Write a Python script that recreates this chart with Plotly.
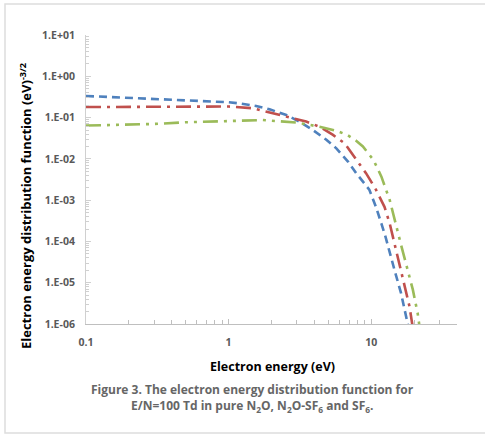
import plotly.graph_objects as go
import numpy as np

# ---- data ----
blue_e = [0.1, 0.2, 0.45, 0.7, 1.0, 1.2, 1.56, 1.94, 2.54, 3.15, 3.9, 4.85, 5.7, 6.9, 7.85, 9.7, 10.8, 11.8, 12.6, 14.6, 16.2, 17.6, 18.3]
blue_v = [0.333, 0.30, 0.27, 0.255, 0.235, 0.22, 0.19, 0.158, 0.116, 0.079, 0.050, 0.029, 0.018, 0.0085, 0.0045, 0.0018, 6.9e-4, 2.7e-4, 1.3e-4, 2e-5, 5.6e-6, 1.5e-6, 8e-7]

red_e = [0.1, 0.3, 0.6, 1.0, 1.48, 2.05, 2.68, 3.5, 4.35, 5.4, 6.5, 8.0, 9.2, 10.8, 12.4, 13.5, 14.2, 16.7, 18.6, 19.6]
red_v = [0.18, 0.18, 0.18, 0.185, 0.168, 0.127, 0.102, 0.080, 0.060, 0.038, 0.024, 0.009, 0.0045, 1.8e-3, 6.9e-4, 2.7e-4, 1.3e-4, 1.4e-5, 2.6e-6, 8e-7]

green_e = [0.1, 0.3, 0.5, 0.9, 1.74, 2.98, 4.35, 5.7, 6.8, 7.85, 8.75, 10.4, 11.8, 13.5, 15.0, 16.2, 19.6, 21.2, 21.9]
green_v = [0.064, 0.070, 0.077, 0.080, 0.087, 0.076, 0.060, 0.048, 0.038, 0.0275, 0.020, 0.0093, 0.0037, 1e-3, 2.3e-4, 8.3e-5, 6.8e-6, 1.8e-6, 8e-7]

y_tickvals = [1e1, 1e0, 1e-1, 1e-2, 1e-3, 1e-4, 1e-5, 1e-6]
y_ticktext = ["1.E+01", "1.E+00", "1.E-01", "1.E-02", "1.E-03", "1.E-04", "1.E-05", "1.E-06"]
x_tickvals = [0.1, 1, 10]
x_ticktext = ["0.1", "1", "10"]

# ---- layout geometry (pixels) ----
W, H = 485, 435
L, R, T, B = 86, 457, 35, 324
pw, ph = R - L, B - T


def px(x):
    return (x - L) / pw


def py(y):
    return (B - y) / ph


FONT = "Open Sans"

fig = go.Figure()
fig.add_trace(go.Scatter(x=blue_e, y=blue_v, mode="lines",
                         line=dict(color="#4F81BD", width=2.6, dash="8px,5px")))
fig.add_trace(go.Scatter(x=red_e, y=red_v, mode="lines",
                         line=dict(color="#C0504D", width=2.6, dash="15px,6px,3px,6px")))
fig.add_trace(go.Scatter(x=green_e, y=green_v, mode="lines",
                         line=dict(color="#9BBB59", width=2.6, dash="15px,6px,3px,6px,3px,6px")))

minor_y = [m * 10.0 ** d for d in range(-6, 1) for m in range(2, 10)]
minor_x = [m * 10.0 ** d for d in range(-1, 2) for m in range(2, 10) if m * 10.0 ** d <= 40]

fig.update_xaxes(type="log", range=[-1, np.log10(40)], tickvals=x_tickvals, ticktext=x_ticktext,
                 showgrid=False, zeroline=False, showline=True, linecolor="#BFBFBF", linewidth=1,
                 ticks="inside", ticklen=5, tickcolor="#BFBFBF",
                 minor=dict(tickvals=minor_x, ticks="inside", ticklen=4, tickcolor="#BFBFBF", showgrid=False),
                 tickfont=dict(family=FONT, size=10.5, color="#595959", weight="bold"),
                 ticklabelstandoff=8)
fig.update_yaxes(type="log", range=[-6, 1], tickvals=y_tickvals, ticktext=y_ticktext,
                 showgrid=False, zeroline=False, showline=True, linecolor="#D0D0D0", linewidth=1,
                 ticks="inside", ticklen=5, tickcolor="#D0D0D0",
                 minor=dict(tickvals=minor_y, ticks="inside", ticklen=3, tickcolor="#D0D0D0", showgrid=False),
                 tickfont=dict(family=FONT, size=10.5, color="#595959", weight="bold"),
                 ticklabelstandoff=8)

annotations = [
    dict(text="Electron energy distribution function (eV)<sup>-3/2</sup>", x=px(25), y=py(206),
         textangle=-90, showarrow=False, xanchor="center", yanchor="middle",
         font=dict(family=FONT, size=13, color="#000000", weight="bold")),
    dict(text="Electron energy (eV)", x=px(272), y=py(366), showarrow=False,
         xanchor="center", yanchor="middle",
         font=dict(family=FONT, size=12.5, color="#000000", weight="bold")),
    dict(text="Figure 3. The electron energy distribution function for", x=px(252), y=py(389),
         showarrow=False, xanchor="center", yanchor="middle",
         font=dict(family=FONT, size=12, color="#666666", weight="bold")),
    dict(text="E/N=100 Td in pure N<sub>2</sub>O, N<sub>2</sub>O-SF<sub>6</sub> and SF<sub>6</sub>.",
         x=px(252), y=py(406), showarrow=False, xanchor="center", yanchor="middle",
         font=dict(family=FONT, size=12, color="#666666", weight="bold")),
]
for a in annotations:
    a["xref"] = "paper"
    a["yref"] = "paper"

fig.update_layout(
    width=W, height=H,
    margin=dict(l=L, r=W - R, t=T, b=H - B),
    paper_bgcolor="white", plot_bgcolor="white",
    showlegend=False,
    annotations=annotations,
    shapes=[dict(type="rect", xref="paper", yref="paper",
                 x0=px(5), x1=px(492), y0=py(433), y1=py(4),
                 line=dict(color="#DDDDDD", width=1.5), layer="below")],
)

fig.write_html("out.html")
